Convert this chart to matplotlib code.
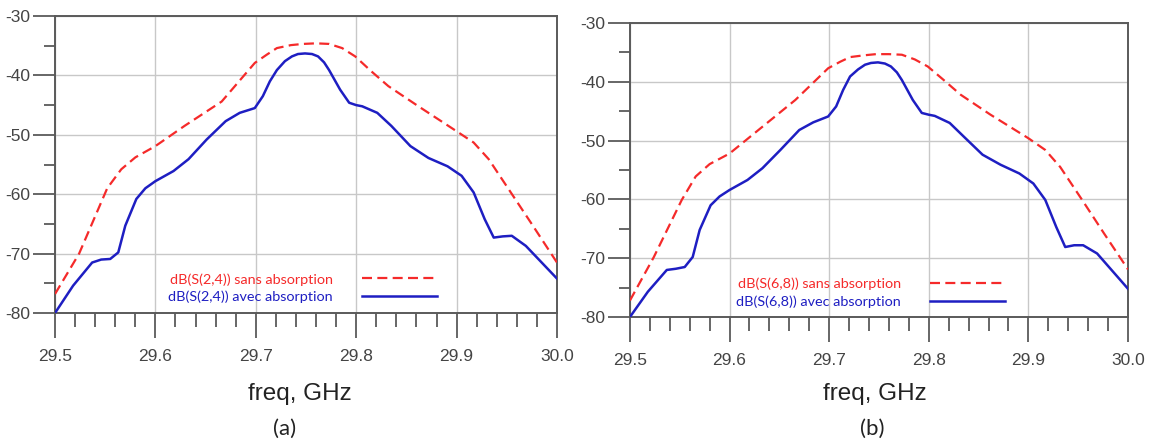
import matplotlib
matplotlib.use("Agg")
import matplotlib.pyplot as plt
from matplotlib.ticker import MultipleLocator

# ---------------- data ----------------
freq_red = [29.5, 29.524, 29.552, 29.566, 29.58, 29.6, 29.629, 29.666, 29.699, 29.711, 29.721,
            29.735, 29.747, 29.760, 29.773, 29.786, 29.799, 29.815, 29.832, 29.862, 29.9,
            29.917, 29.932, 29.954, 29.976, 30.0]
s24_sans = [-76.8, -70.0, -59.0, -55.8, -53.8, -51.9, -48.5, -44.4, -37.9, -36.5, -35.4,
            -34.9, -34.7, -34.6, -34.7, -35.4, -36.8, -39.3, -41.8, -45.2, -49.4,
            -51.3, -54.1, -59.7, -65.3, -71.5]
s68_sans = [-77.2, -69.8, -60.1, -56.1, -54.0, -52.2, -48.2, -43.1, -37.7, -36.6, -35.8,
            -35.5, -35.3, -35.3, -35.4, -36.2, -37.4, -39.7, -42.2, -45.6, -49.6,
            -51.6, -54.5, -60.1, -65.8, -71.9]

freq_blue = [29.5, 29.518, 29.537, 29.546, 29.555, 29.563, 29.570, 29.581, 29.590, 29.600, 29.618,
             29.633, 29.651, 29.670, 29.684, 29.699, 29.707, 29.714, 29.721, 29.729, 29.736,
             29.742, 29.749, 29.756, 29.762, 29.768, 29.773, 29.784, 29.793, 29.800, 29.806,
             29.821, 29.835, 29.854, 29.872, 29.891, 29.905, 29.917, 29.928, 29.937, 29.946,
             29.955, 29.969, 30.0]
s24_avec = [-80.0, -75.4, -71.5, -71.0, -70.9, -69.8, -65.3, -60.8, -59.0, -57.8, -56.1,
            -54.1, -50.8, -47.7, -46.3, -45.5, -43.5, -41.0, -39.1, -37.6, -36.8,
            -36.4, -36.3, -36.4, -36.8, -37.8, -39.1, -42.4, -44.6, -45.0, -45.2,
            -46.3, -48.5, -51.9, -53.9, -55.3, -56.9, -59.7, -64.2, -67.3, -67.1,
            -67.0, -68.7, -74.2]
s68_avec = [-80.0, -75.7, -72.0, -71.8, -71.5, -69.8, -65.2, -61.0, -59.5, -58.4, -56.7,
            -54.7, -51.6, -48.2, -46.9, -45.9, -44.2, -41.4, -39.1, -37.9, -37.1,
            -36.8, -36.7, -36.9, -37.4, -38.4, -39.7, -43.1, -45.3, -45.6, -45.8,
            -47.0, -49.3, -52.4, -54.1, -55.6, -57.3, -60.1, -64.7, -68.1, -67.8,
            -67.8, -69.2, -75.2]

xticks = [29.5, 29.6, 29.7, 29.8, 29.9, 30.0]
xticklabels = ["29.5", "29.6", "29.7", "29.8", "29.9", "30.0"]
yticks = [-80, -70, -60, -50, -40, -30]
yticklabels = ["-80", "-70", "-60", "-50", "-40", "-30"]

panels = [
    dict(pos=[0.0478, 0.2902, 0.4361, 0.6735], sans=s24_sans, avec=s24_avec,
         lab_sans="dB(S(2,4)) sans absorption", lab_avec="dB(S(2,4)) avec absorption",
         tag="(a)", leg_anchor=(0.761, 0.084), xlab=(0.488, -0.273), xtag=(0.458, -0.39)),
    dict(pos=[0.5473, 0.2812, 0.4327, 0.6667], sans=s68_sans, avec=s68_avec,
         lab_sans="dB(S(6,8)) sans absorption", lab_avec="dB(S(6,8)) avec absorption",
         tag="(b)", leg_anchor=(0.753, 0.082), xlab=(0.492, -0.262), xtag=(0.486, -0.38)),
]

RED = "#f52a2a"
BLUE = "#1e1ec2"
TXT = "#444444"
SPINE = "#5a5a5a"

fig = plt.figure(figsize=(11.51, 4.41), dpi=100)

for p in panels:
    ax = fig.add_axes(p["pos"])
    ax.plot(freq_red, p["sans"], color=RED, lw=1.6, ls=(0, (4.5, 2.4)),
            label=p["lab_sans"], zorder=3)
    ax.plot(freq_blue, p["avec"], color=BLUE, lw=1.8, label=p["lab_avec"], zorder=3)
    ax.set_xlim(29.5, 30.0)
    ax.set_ylim(-80, -30)
    ax.set_xticks(xticks)
    ax.set_xticklabels(xticklabels)
    ax.set_yticks(yticks)
    ax.set_yticklabels(yticklabels)
    ax.xaxis.set_minor_locator(MultipleLocator(0.02))
    ax.yaxis.set_minor_locator(MultipleLocator(5))
    ax.grid(True, which="major", color="#c8c8c8", lw=1.0, zorder=0)
    for s in ax.spines.values():
        s.set_color(SPINE)
        s.set_linewidth(1.4)
    ax.tick_params(which="both", direction="out", width=1.3, color=SPINE)
    ax.tick_params(axis="x", which="major", length=18)
    ax.tick_params(axis="x", which="minor", length=10)
    ax.tick_params(axis="y", which="major", length=16)
    ax.tick_params(axis="y", which="minor", length=8)
    ax.tick_params(axis="both", which="major", labelsize=12.5, labelcolor=TXT)
    for lbl in ax.get_xticklabels() + ax.get_yticklabels():
        lbl.set_family("Liberation Sans")
    ax.tick_params(axis="x", pad=8)
    ax.tick_params(axis="y", pad=2)
    ax.legend(loc="center right", bbox_to_anchor=p["leg_anchor"], frameon=False,
              borderpad=0, borderaxespad=0,
              markerfirst=False, handlelength=5.2, handletextpad=2.0,
              labelspacing=0.35, labelcolor="linecolor",
              prop=dict(family="Lato", size=10.4))
    ax.text(*p["xlab"], "freq, GHz", transform=ax.transAxes, ha="center", va="center",
            fontsize=17.5, family="Liberation Sans", color="#222222")
    ax.text(*p["xtag"], p["tag"], transform=ax.transAxes, ha="center", va="center",
            fontsize=16, family="Lato", color="#222222")

fig.savefig("out.png", dpi=100)
